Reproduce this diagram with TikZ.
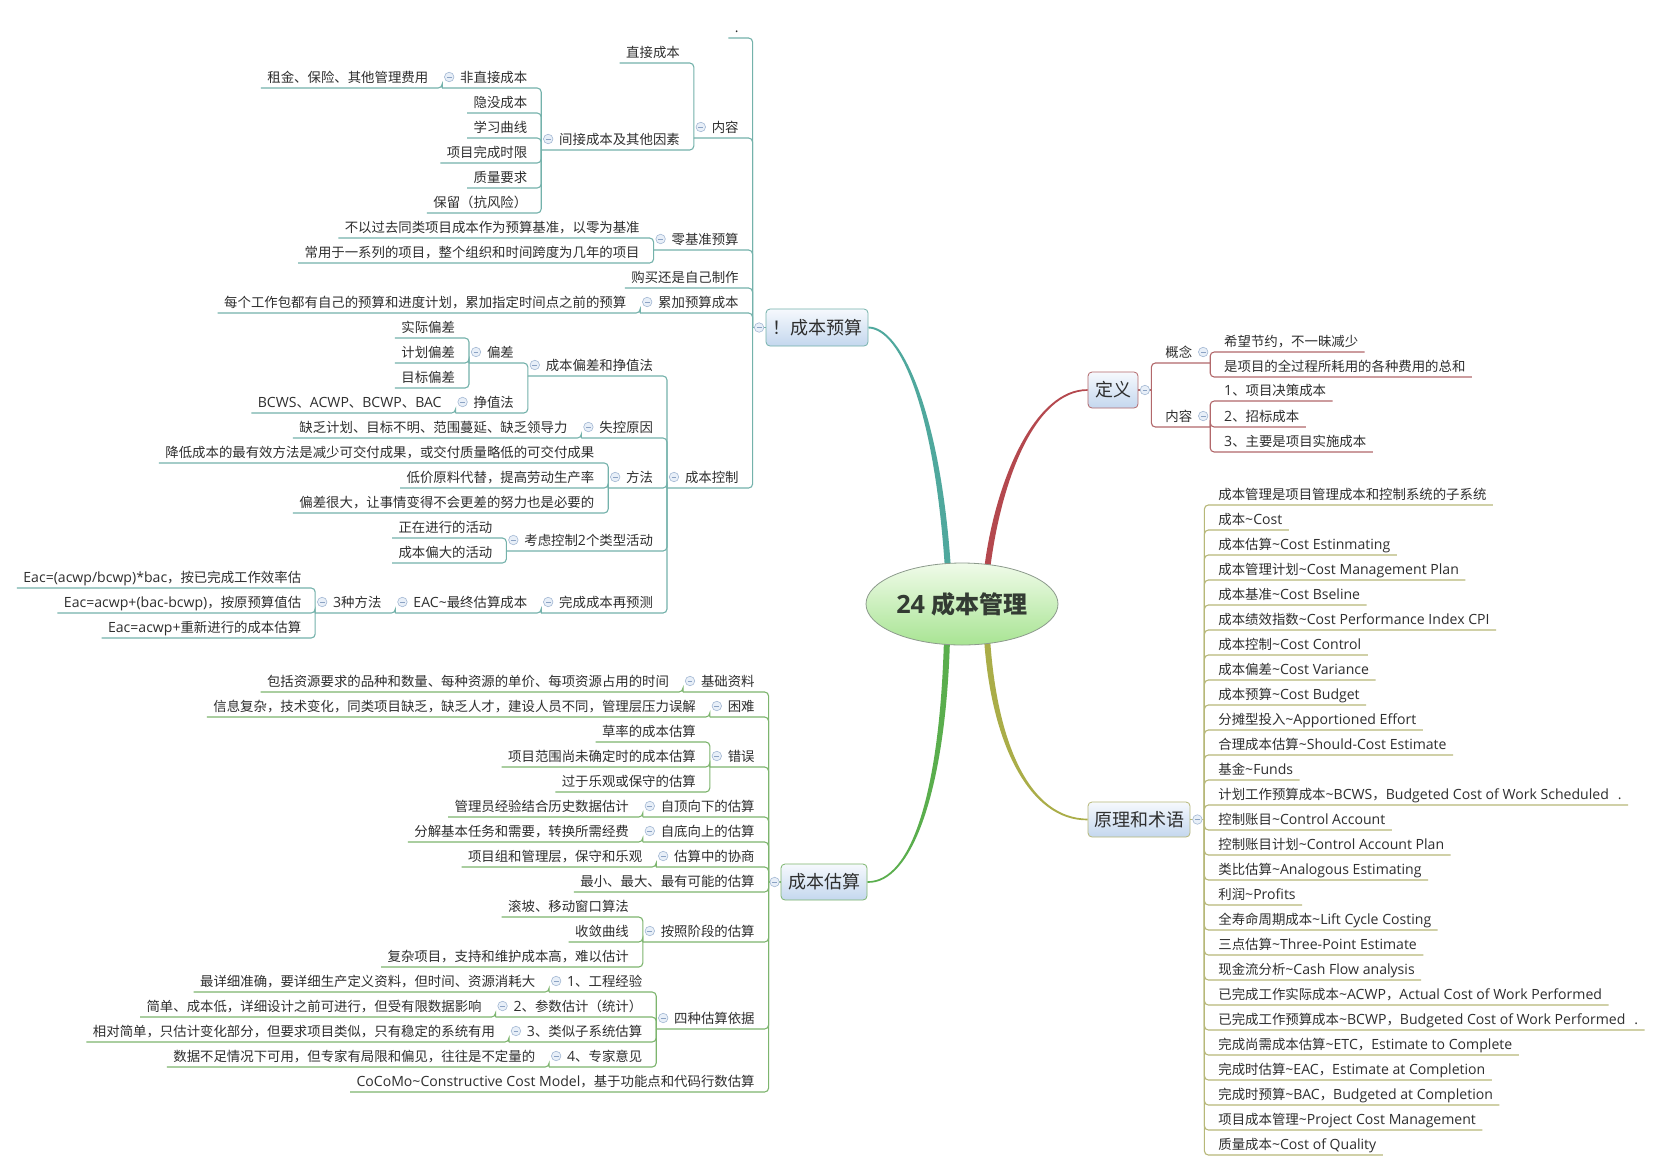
\documentclass[tikz,border=0pt]{standalone}
\usepackage{fontspec}
\setmainfont[Scale=1.05]{Open Sans}
\newfontfamily\latf[Scale=1.05]{Open Sans}
\newfontfamily\cjkf{Noto Sans CJK SC}
\usetikzlibrary{shapes.geometric,backgrounds}
% automatic switching between Latin and CJK fonts
\XeTeXinterchartokenstate=1
\ifdefined\newXeTeXintercharclass \newXeTeXintercharclass\CJKcls \else \chardef\CJKcls=3 \fi
\newcount\mmcnt
\mmcnt="3000
\loop\ifnum\mmcnt<"A000 \XeTeXcharclass\mmcnt=\CJKcls \advance\mmcnt by 1 \repeat
\mmcnt="FF00
\loop\ifnum\mmcnt<"FFF0 \XeTeXcharclass\mmcnt=\CJKcls \advance\mmcnt by 1 \repeat
\XeTeXinterchartoks 0 \CJKcls = {\cjkf}
\XeTeXinterchartoks 4095 \CJKcls = {\cjkf}
\XeTeXinterchartoks \CJKcls 0 = {\latf}
\XeTeXinterchartoks \CJKcls 4095 = {\latf}
\newcommand\fs{\fontsize{13.4}{16}\selectfont}
\newcommand\bfs{\fontsize{18}{22}\selectfont}
\newcommand\rfs{\bfseries\fontsize{24}{28}\selectfont}
\newcommand\tld{\string~}
\definecolor{txtc}{HTML}{2E2E2E}
\definecolor{btnb}{HTML}{A3B8D3}
\definecolor{btnf}{HTML}{E8EFF8}
\definecolor{btnm}{HTML}{8CA3C4}
\definecolor{boxtop}{HTML}{F6F9FD}
\definecolor{boxbot}{HTML}{C4D7EE}
\definecolor{cTeal}{HTML}{74B2AB}
\definecolor{cRed}{HTML}{B2686B}
\definecolor{cGreen}{HTML}{7DB56E}
\definecolor{cOlive}{HTML}{B7B879}
\definecolor{kTeal}{HTML}{4FA89D}
\definecolor{kRed}{HTML}{B4484E}
\definecolor{kGreen}{HTML}{5AAE4D}
\definecolor{kOlive}{HTML}{AAAD48}
\definecolor{roottop}{HTML}{F0FBE9}
\definecolor{rootbot}{HTML}{A8E493}
\definecolor{rootb}{HTML}{8C9A8C}
\definecolor{roottxt}{HTML}{333B33}
\pgfdeclarelayer{bgzero}
\pgfsetlayers{bgzero,background,main}
% left-side leaf / parent, right-side leaf / parent
\newcommand\mmLeafL[4]{%
  \node[ln] (#1) at (#2 |- 0,#3) {#4};
  \draw[conn] (#2) |- ([xshift=-6.5pt]#1.south west);}
\newcommand\mmParL[4]{%
  \node[ln] (#1) at (#2 |- 0,#3) {#4};
  \coordinate (#1j) at ([xshift=-18pt]#1.south west);
  \draw[conn] (#2) |- (#1j);
  \node[btn] (#1b) at ([xshift=-11pt,yshift=1.5pt]#1.west) {};}
\newcommand\mmLeafR[4]{%
  \node[rn] (#1) at (#2 |- 0,#3) {#4};
  \draw[conn] (#2) |- ([xshift=6.5pt]#1.south east);}
\newcommand\mmParR[4]{%
  \node[rn] (#1) at (#2 |- 0,#3) {#4};
  \coordinate (#1j) at ([xshift=18pt]#1.south east);
  \draw[conn] (#2) |- (#1j);
  \node[btn] (#1b) at ([xshift=11pt,yshift=1.5pt]#1.east) {};}
\begin{document}
\begin{tikzpicture}[x=1pt,y=-1pt,
  txt/.style={inner xsep=0pt,inner ysep=3pt,text height=10pt,text depth=3pt,outer sep=0pt,font=\latf\fs,text=txtc},
  ln/.style={txt,anchor=south east,xshift=-14pt},
  rn/.style={txt,anchor=south west,xshift=14pt},
  conn/.style={draw=brcol,line width=1.1pt,rounded corners=4pt},
  btn/.style={circle,draw=btnb,fill=btnf,minimum size=9.5pt,inner sep=0pt,line width=0.6pt,
    path picture={\draw[btnm,line width=0.9pt] ([xshift=-2.4pt]path picture bounding box.center) -- ([xshift=2.4pt]path picture bounding box.center);}},
  mbox/.style={draw=brcol,line width=0.8pt,rounded corners=4pt,top color=boxtop,bottom color=boxbot,inner sep=0pt,font=\latf\bfs,text=txtc},
  rootst/.style={ellipse,draw=rootb,line width=0.8pt,top color=roottop,bottom color=rootbot,minimum width=192pt,minimum height=82pt,inner sep=0pt,font=\latf\rfs,text=roottxt}]
\useasboundingbox (0,0) rectangle (1654,1171);
\begin{pgfonlayer}{bgzero}
  \fill[white] (0,0) rectangle (1654,1171);
\end{pgfonlayer}

% ---------- central topic and main boxes ----------
\node[rootst] (root) at (962,604) {24 成本管理};
\colorlet{brcol}{cTeal}
\node[mbox,minimum width=102pt,minimum height=37pt] (cb) at (817,327.5) {！成本预算};
\colorlet{brcol}{cRed}
\node[mbox,minimum width=50pt,minimum height=36pt] (dy) at (1113,390) {定义};
\colorlet{brcol}{cGreen}
\node[mbox,minimum width=86pt,minimum height=36pt] (ce) at (824,882) {成本估算};
\colorlet{brcol}{cOlive}
\node[mbox,minimum width=102pt,minimum height=35pt] (yl) at (1139,819.5) {原理和术语};

\begin{scope}[on background layer]
  \fill[kTeal] (951,570) .. controls (941,415) and (902,326.3) .. ([yshift=0.9pt]cb.east)
    -- ([yshift=-0.9pt]cb.east) .. controls (902,329.7) and (935,415) .. (945,570) -- cycle;
  \fill[kRed] (984,570) .. controls (995,480) and (1035,388.6) .. ([yshift=0.8pt]dy.west)
    -- ([yshift=-0.8pt]dy.west) .. controls (1035,391.4) and (1001,480) .. (990,570) -- cycle;
  \fill[kGreen] (944,638) .. controls (940,790) and (912,881.6) .. ([yshift=0.8pt]ce.east)
    -- ([yshift=-0.8pt]ce.east) .. controls (912,884.4) and (946,790) .. (950,638) -- cycle;
  \fill[kOlive] (984,638) .. controls (991,745) and (1030,820.9) .. ([yshift=-0.8pt]yl.west)
    -- ([yshift=0.8pt]yl.west) .. controls (1030,818.1) and (997,745) .. (990,638) -- cycle;
\end{scope}

% ---------- 成本预算 ----------
\colorlet{brcol}{cTeal}
\coordinate (cbj) at ([xshift=-13pt]cb.west);
\draw[conn] (cbj) -- (cb.west);
\node[btn] (cbb) at ([xshift=-6.5pt]cb.west) {};
\mmLeafL{dot}{cbj}{38}{.}
\mmParL{nr}{cbj}{138}{内容}
  \mmLeafL{zjcb}{nrj}{63}{直接成本}
  \mmParL{jj}{nrj}{150}{间接成本及其他因素}
    \mmParL{fzj}{jjj}{88}{非直接成本}
      \mmLeafL{zj}{fzjj}{88}{租金、保险、其他管理费用}
    \mmLeafL{ym}{jjj}{113}{隐没成本}
    \mmLeafL{xx}{jjj}{138}{学习曲线}
    \mmLeafL{wc}{jjj}{163}{项目完成时限}
    \mmLeafL{zl}{jjj}{188}{质量要求}
    \mmLeafL{bl}{jjj}{213}{保留（抗风险）}
\mmParL{ljz}{cbj}{250}{零基准预算}
  \mmLeafL{ljza}{ljzj}{238}{不以过去同类项目成本作为预算基准，以零为基准}
  \mmLeafL{ljzb}{ljzj}{263}{常用于一系列的项目，整个组织和时间跨度为几年的项目}
\mmLeafL{gm}{cbj}{288}{购买还是自己制作}
\mmParL{lj}{cbj}{313}{累加预算成本}
  \mmLeafL{lja}{ljj}{313}{每个工作包都有自己的预算和进度计划，累加指定时间点之前的预算}
\mmParL{kz}{cbj}{488}{成本控制}
  \mmParL{pc}{kzj}{376}{成本偏差和挣值法}
    \mmParL{pcx}{pcj}{363}{偏差}
      \mmLeafL{pcxa}{pcxj}{338}{实际偏差}
      \mmLeafL{pcxb}{pcxj}{363}{计划偏差}
      \mmLeafL{pcxc}{pcxj}{388}{目标偏差}
    \mmParL{zz}{pcj}{413}{挣值法}
      \mmLeafL{zza}{zzj}{413}{BCWS、ACWP、BCWP、BAC}
  \mmParL{sk}{kzj}{438}{失控原因}
    \mmLeafL{ska}{skj}{438}{缺乏计划、目标不明、范围蔓延、缺乏领导力}
  \mmParL{ff}{kzj}{488}{方法}
    \mmLeafL{ffa}{ffj}{463}{降低成本的最有效方法是减少可交付成果，或交付质量略低的可交付成果}
    \mmLeafL{ffb}{ffj}{488}{低价原料代替，提高劳动生产率}
    \mmLeafL{ffc}{ffj}{513}{偏差很大，让事情变得不会更差的努力也是必要的}
  \mmParL{kl}{kzj}{551}{考虑控制2个类型活动}
    \mmLeafL{kla}{klj}{538}{正在进行的活动}
    \mmLeafL{klb}{klj}{563}{成本偏大的活动}
  \mmParL{yc}{kzj}{613}{完成成本再预测}
    \mmParL{eac}{ycj}{613}{EAC\tld 最终估算成本}
      \mmParL{sz}{eacj}{613}{3种方法}
        \mmLeafL{sza}{szj}{588}{Eac=(acwp/bcwp)*bac，按已完成工作效率估}
        \mmLeafL{szb}{szj}{613}{Eac=acwp+(bac-bcwp)，按原预算值估}
        \mmLeafL{szc}{szj}{638}{Eac=acwp+重新进行的成本估算}

% ---------- 成本估算 ----------
\colorlet{brcol}{cGreen}
\coordinate (cej) at ([xshift=-12pt]ce.west);
\draw[conn] (cej) -- (ce.west);
\node[btn] (ceb) at ([xshift=-6pt]ce.west) {};
\mmParL{jc}{cej}{692}{基础资料}
  \mmLeafL{jca}{jcj}{692}{包括资源要求的品种和数量、每种资源的单价、每项资源占用的时间}
\mmParL{kn}{cej}{717}{困难}
  \mmLeafL{kna}{knj}{717}{信息复杂，技术变化，同类项目缺乏，缺乏人才，建设人员不同，管理层压力误解}
\mmParL{cw}{cej}{767}{错误}
  \mmLeafL{cwa}{cwj}{742}{草率的成本估算}
  \mmLeafL{cwb}{cwj}{767}{项目范围尚未确定时的成本估算}
  \mmLeafL{cwc}{cwj}{792}{过于乐观或保守的估算}
\mmParL{zd}{cej}{817}{自顶向下的估算}
  \mmLeafL{zda}{zdj}{817}{管理员经验结合历史数据估计}
\mmParL{zu}{cej}{842}{自底向上的估算}
  \mmLeafL{zua}{zuj}{842}{分解基本任务和需要，转换所需经费}
\mmParL{xs}{cej}{867}{估算中的协商}
  \mmLeafL{xsa}{xsj}{867}{项目组和管理层，保守和乐观}
\mmLeafL{zx}{cej}{892}{最小、最大、最有可能的估算}
\mmParL{aj}{cej}{942}{按照阶段的估算}
  \mmLeafL{aja}{ajj}{917}{滚坡、移动窗口算法}
  \mmLeafL{ajb}{ajj}{942}{收敛曲线}
  \mmLeafL{ajc}{ajj}{967}{复杂项目，支持和维护成本高，难以估计}
\mmParL{sy}{cej}{1029}{四种估算依据}
  \mmParL{gc}{syj}{992}{1、工程经验}
    \mmLeafL{gca}{gcj}{992}{最详细准确，要详细生产定义资料，但时间、资源消耗大}
  \mmParL{cs}{syj}{1017}{2、参数估计（统计）}
    \mmLeafL{csa}{csj}{1017}{简单、成本低，详细设计之前可进行，但受有限数据影响}
  \mmParL{ls}{syj}{1042}{3、类似子系统估算}
    \mmLeafL{lsa}{lsj}{1042}{相对简单，只估计变化部分，但要求项目类似，只有稳定的系统有用}
  \mmParL{zy}{syj}{1067}{4、专家意见}
    \mmLeafL{zya}{zyj}{1067}{数据不足情况下可用，但专家有局限和偏见，往往是不定量的}
\mmLeafL{cocomo}{cej}{1092}{CoCoMo\tld Constructive Cost Model，基于功能点和代码行数估算}

% ---------- 定义 ----------
\colorlet{brcol}{cRed}
\coordinate (dyj) at ([xshift=13pt]dy.east);
\draw[conn] (dy.east) -- (dyj);
\node[btn] (dyb) at ([xshift=6.5pt]dy.east) {};
\mmParR{gn}{dyj}{363}{概念}
  \mmLeafR{gna}{gnj}{352}{希望节约，不一昧减少}
  \mmLeafR{gnb}{gnj}{377}{是项目的全过程所耗用的各种费用的总和}
\mmParR{nrr}{dyj}{427}{内容}
  \mmLeafR{nrra}{nrrj}{401}{1、项目决策成本}
  \mmLeafR{nrrb}{nrrj}{427}{2、招标成本}
  \mmLeafR{nrrc}{nrrj}{452}{3、主要是项目实施成本}

% ---------- 原理和术语 ----------
\colorlet{brcol}{cOlive}
\coordinate (ylj) at ([xshift=14pt]yl.east);
\draw[conn] (yl.east) -- (ylj);
\node[btn] (ylb) at ([xshift=7pt]yl.east) {};
\mmLeafR{ta}{ylj}{505}{成本管理是项目管理成本和控制系统的子系统}
\mmLeafR{tb}{ylj}{530}{成本\tld Cost}
\mmLeafR{tc}{ylj}{555}{成本估算\tld Cost Estinmating}
\mmLeafR{td}{ylj}{580}{成本管理计划\tld Cost Management Plan}
\mmLeafR{te}{ylj}{605}{成本基准\tld Cost Bseline}
\mmLeafR{tf}{ylj}{630}{成本绩效指数\tld Cost Performance Index CPI}
\mmLeafR{tg}{ylj}{655}{成本控制\tld Cost Control}
\mmLeafR{th}{ylj}{680}{成本偏差\tld Cost Variance}
\mmLeafR{ti}{ylj}{705}{成本预算\tld Cost Budget}
\mmLeafR{tj}{ylj}{730}{分摊型投入\tld Apportioned Effort}
\mmLeafR{tk}{ylj}{755}{合理成本估算\tld Should-Cost Estimate}
\mmLeafR{tl}{ylj}{780}{基金\tld Funds}
\mmLeafR{tm}{ylj}{805}{计划工作预算成本\tld BCWS，Budgeted Cost of Work Scheduled\hspace{9pt}.}
\mmLeafR{tn}{ylj}{830}{控制账目\tld Control Account}
\mmLeafR{to}{ylj}{855}{控制账目计划\tld Control Account Plan}
\mmLeafR{tp}{ylj}{880}{类比估算\tld Analogous Estimating}
\mmLeafR{tq}{ylj}{905}{利润\tld Profits}
\mmLeafR{tr}{ylj}{930}{全寿命周期成本\tld Lift Cycle Costing}
\mmLeafR{ts}{ylj}{955}{三点估算\tld Three-Point Estimate}
\mmLeafR{tt}{ylj}{980}{现金流分析\tld Cash Flow analysis}
\mmLeafR{tu}{ylj}{1005}{已完成工作实际成本\tld ACWP，Actual Cost of Work Performed}
\mmLeafR{tv}{ylj}{1030}{已完成工作预算成本\tld BCWP，Budgeted Cost of Work Performed\hspace{9pt}.}
\mmLeafR{tw}{ylj}{1055}{完成尚需成本估算\tld ETC，Estimate to Complete}
\mmLeafR{tx}{ylj}{1080}{完成时估算\tld EAC，Estimate at Completion}
\mmLeafR{ty}{ylj}{1105}{完成时预算\tld BAC，Budgeted at Completion}
\mmLeafR{tz}{ylj}{1130}{项目成本管理\tld Project Cost Management}
\mmLeafR{tzz}{ylj}{1155}{质量成本\tld Cost of Quality}
\end{tikzpicture}
\end{document}
